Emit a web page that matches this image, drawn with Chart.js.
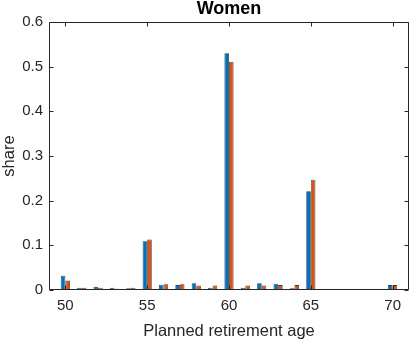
<!DOCTYPE html>
<html><head><meta charset="utf-8">
<script src="https://cdn.jsdelivr.net/npm/chart.js@4/dist/chart.umd.min.js"></script>
<style>html,body{margin:0;padding:0;background:#fff}#wrap{width:410px;height:341px}</style>
</head><body><div id="wrap"><canvas id="c" width="410" height="341"></canvas></div>
<script>
const ages = [50,51,52,53,54,55,56,57,58,59,60,61,62,63,64,65,66,67,68,69,70];
const seriesA = [0.032,0.005,0.007,0.005,0.004,0.109,0.012,0.011,0.015,0.005,0.530,0.005,0.015,0.014,0.004,0.221,0,0,0.002,0,0.011];
const seriesB = [0.021,0.005,0.005,0.003,0.005,0.113,0.013,0.013,0.010,0.010,0.511,0.010,0.010,0.011,0.011,0.247,0,0,0,0,0.011];
const xTicks = [50,55,60,65,70];
const yTicks = [0,0.1,0.2,0.3,0.4,0.5,0.6];
const titleText = 'Women';
const xTitle = 'Planned retirement age';
const yTitle = 'share';

const FONT = '"Liberation Sans", Arial, Helvetica, sans-serif';
const axisColor = '#262626';

const boxPlugin = {
  id: 'box',
  afterDraw(chart) {
    const ctx = chart.ctx, a = chart.chartArea;
    const xs = chart.scales.x, ys = chart.scales.y;
    ctx.save();
    ctx.strokeStyle = axisColor;
    ctx.lineWidth = 1;
    const L = Math.round(a.left) + 0.5, R = Math.round(a.right) - 0.5;
    const T = Math.round(a.top) + 0.5, B = Math.round(a.bottom) - 0.5;
    ctx.beginPath();
    ctx.rect(L, T, R - L, B - T);
    xTicks.forEach(v => {
      const p = Math.round(xs.getPixelForValue(v)) + 0.5;
      ctx.moveTo(p, B); ctx.lineTo(p, B - 4);
      ctx.moveTo(p, T); ctx.lineTo(p, T + 4);
    });
    yTicks.forEach(v => {
      const p = Math.round(ys.getPixelForValue(v)) + 0.5;
      ctx.moveTo(L, p); ctx.lineTo(L + 4, p);
      ctx.moveTo(R, p); ctx.lineTo(R - 4, p);
    });
    ctx.stroke();
    ctx.fillStyle = '#000';
    ctx.font = 'bold 18px ' + FONT;
    ctx.textAlign = 'center';
    ctx.textBaseline = 'alphabetic';
    ctx.fillText(titleText, (a.left + a.right) / 2, 14);
    ctx.restore();
  }
};

new Chart(document.getElementById('c'), {
  type: 'bar',
  data: {
    datasets: [
      { data: ages.map((x, i) => ({x, y: seriesA[i]})), backgroundColor: '#0072BD', borderColor: 'rgba(20,20,20,0.85)', borderWidth: 0.8 },
      { data: ages.map((x, i) => ({x, y: seriesB[i]})), backgroundColor: '#D95319', borderColor: 'rgba(20,20,20,0.85)', borderWidth: 0.8 }
    ]
  },
  options: {
    responsive: false,
    animation: false,
    events: [],
    layout: { padding: { top: 22, right: 1, left: 0, bottom: 0 } },
    plugins: { legend: { display: false }, tooltip: { enabled: false }, title: { display: false } },
    datasets: { bar: { categoryPercentage: 0.56, barPercentage: 1 } },
    scales: {
      x: {
        type: 'linear', min: 49, max: 71, offset: false,
        afterBuildTicks: s => { s.ticks = xTicks.map(v => ({ value: v })); },
        afterFit: s => { s.height = 51; },
        grid: { display: false, drawTicks: false, offset: false },
        border: { display: false },
        ticks: { color: '#262626', font: { family: FONT, size: 15 }, padding: 7, autoSkip: false, maxRotation: 0 },
        title: { display: true, text: xTitle, color: '#262626', font: { family: FONT, size: 16.5 }, padding: { top: 1, bottom: 0 } }
      },
      y: {
        min: 0, max: 0.6,
        afterBuildTicks: s => { s.ticks = yTicks.map(v => ({ value: v })); },
        afterFit: s => { s.width = 49; },
        grid: { display: false, drawTicks: false },
        border: { display: false },
        ticks: { color: '#262626', font: { family: FONT, size: 15 }, padding: 6, callback: v => String(Math.round(v * 10) / 10) },
        title: { display: true, text: yTitle, color: '#262626', font: { family: FONT, size: 16.5 }, padding: { top: 0, bottom: 0 } }
      }
    }
  },
  plugins: [boxPlugin]
});
</script></body></html>
